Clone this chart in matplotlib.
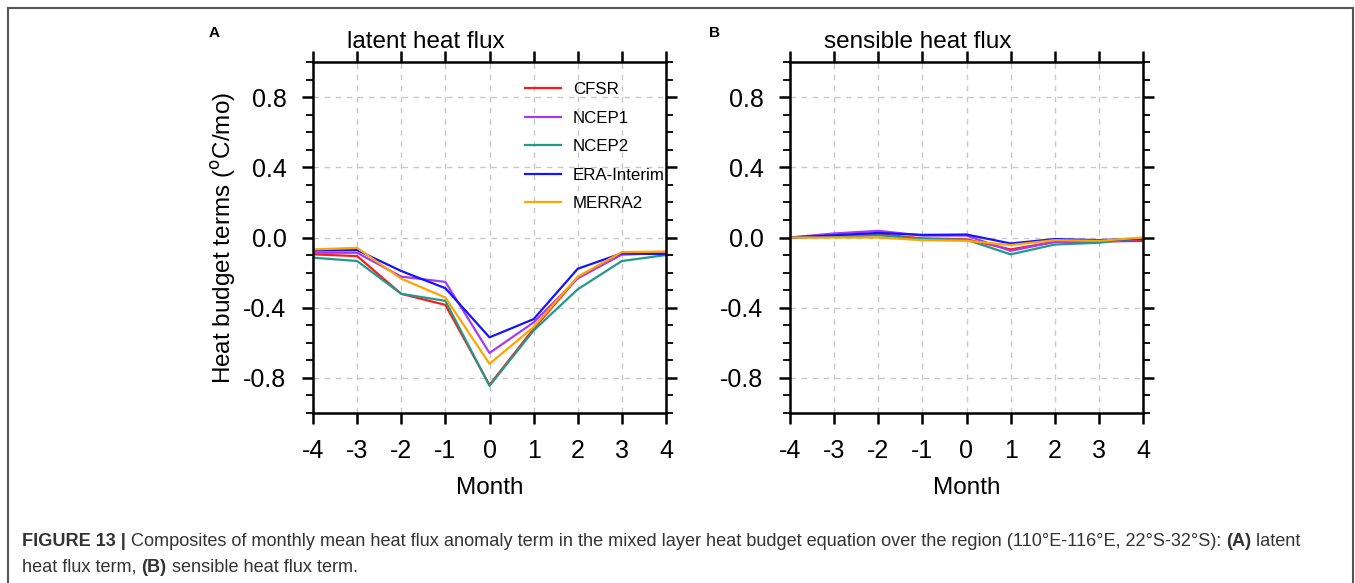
import numpy as np
import matplotlib
matplotlib.use('Agg')
import matplotlib.pyplot as plt
from matplotlib.ticker import MultipleLocator
from matplotlib.lines import Line2D

plt.rcParams['font.family'] = ['Liberation Sans', 'DejaVu Sans']

months = [-4, -3, -2, -1, 0, 1, 2, 3, 4]
names = ['CFSR', 'NCEP1', 'NCEP2', 'ERA-Interim', 'MERRA2']
colors = ['#ff1a1a', '#a43cf5', '#23998e', '#1414ff', '#ffa500']

# latent heat flux
lh_cfsr = [-0.096, -0.106, -0.321, -0.384, -0.84, -0.52, -0.228, -0.096, -0.09]
lh_ncep1 = [-0.087, -0.087, -0.223, -0.253, -0.658, -0.484, -0.233, -0.096, -0.09]
lh_ncep2 = [-0.115, -0.134, -0.321, -0.361, -0.845, -0.53, -0.295, -0.134, -0.10]
lh_era = [-0.074, -0.072, -0.191, -0.289, -0.569, -0.465, -0.178, -0.09, -0.095]
lh_merra = [-0.068, -0.059, -0.235, -0.342, -0.72, -0.51, -0.223, -0.083, -0.08]

# sensible heat flux
sh_cfsr = [0.0, 0.008, 0.019, -0.005, -0.01, -0.068, -0.025, -0.023, -0.019]
sh_ncep1 = [0.0, 0.023, 0.038, 0.011, 0.011, -0.076, -0.025, -0.023, -0.008]
sh_ncep2 = [0.0, 0.004, 0.013, -0.008, -0.013, -0.096, -0.04, -0.03, -0.002]
sh_era = [0.0, 0.013, 0.026, 0.015, 0.017, -0.034, -0.009, -0.015, -0.006]
sh_merra = [0.0, 0.0, 0.0, -0.015, -0.019, -0.043, -0.015, -0.019, 0.0]

latent = [lh_cfsr, lh_ncep1, lh_ncep2, lh_era, lh_merra]
sensible = [sh_cfsr, sh_ncep1, sh_ncep2, sh_era, sh_merra]

fig = plt.figure(figsize=(13.55, 5.83), dpi=100)
W, H = 1355, 583

# page frame
fig.add_artist(Line2D([8 / W, 8 / W], [0, 1 - 8 / H], color='#555555', lw=1.5))
fig.add_artist(Line2D([8 / W, 1353 / W], [1 - 8 / H, 1 - 8 / H], color='#555555', lw=1.5))
fig.add_artist(Line2D([1353 / W, 1353 / W], [0, 1 - 8 / H], color='#555555', lw=1.5))


def panel(left, data, title, letter, letter_x, ylabel=False, legend=False):
    ax = fig.add_axes([left / W, 1 - 413 / H, 353 / W, 351 / H])
    for vals, c, n in zip(data, colors, names):
        ax.plot(months, vals, color=c, lw=1.6, label=n)
    ax.set_xlim(-4, 4)
    ax.set_ylim(-1.0, 1.0)
    ax.set_xticks(months)
    ax.set_xticklabels([str(m) for m in months])
    ax.yaxis.set_minor_locator(MultipleLocator(0.1))
    ax.set_yticks([0.8, 0.4, 0.0, -0.4, -0.8])
    ax.set_yticklabels(['0.8', '0.4', '0.0', '-0.4', '-0.8'])
    ax.tick_params(which='major', direction='out', length=8, width=1.8,
                   top=True, right=True, labelsize=18, pad=11)
    ax.tick_params(axis='x', which='major', pad=11)
    ax.tick_params(which='minor', direction='out', length=5, width=1.3,
                   left=True, right=True)
    ax.tick_params(axis='x', which='minor', bottom=False, top=False)
    for s in ax.spines.values():
        s.set_linewidth(1.8)
    ax.grid(True, which='major', color='#c8c8c8', ls=(0, (4, 4)), lw=1.0)
    ax.set_xlabel('Month', fontsize=17.5, labelpad=10)
    if ylabel:
        ax.set_ylabel('Heat budget terms ($^{\\rm o}$C/mo)', fontsize=17.5, labelpad=4)
    ax.text(0.096, 1.025, title, transform=ax.transAxes, fontsize=17.5,
            ha='left', va='bottom')
    fig.text(letter_x / W, 1 - 33 / H, letter, fontsize=11, fontweight='bold',
             ha='left', va='center')
    if legend:
        ax.legend(loc='upper left', bbox_to_anchor=(0.582, 0.962), frameon=False,
                  fontsize=12.2, handlelength=2.1, handletextpad=0.7,
                  labelspacing=0.8, borderaxespad=0)
    return ax


panel(313, latent, 'latent heat flux', 'A', 209, ylabel=True, legend=True)
panel(790, sensible, 'sensible heat flux', 'B', 709)

# caption with mixed weights
renderer = fig.canvas.get_renderer()


def write_line(parts, x, y):
    for txt, bold in parts:
        t = fig.text(x, y, txt, fontsize=13.1, color='#333333',
                     fontweight='bold' if bold else 'normal', ha='left', va='baseline')
        bb = t.get_window_extent(renderer=renderer)
        x += bb.width / W


write_line([('FIGURE 13 | ', True),
            ('Composites of monthly mean heat flux anomaly term in the mixed layer heat budget '
             'equation over the region (110\u00b0E-116\u00b0E, 22\u00b0S-32\u00b0S): ', False),
            ('(A)', True), (' latent', False)], 22 / W, 1 - 546 / H)
write_line([('heat flux term, ', False), ('(B)', True),
            (' sensible heat flux term.', False)], 22 / W, 1 - 572 / H)

fig.savefig('out.png', dpi=100)
